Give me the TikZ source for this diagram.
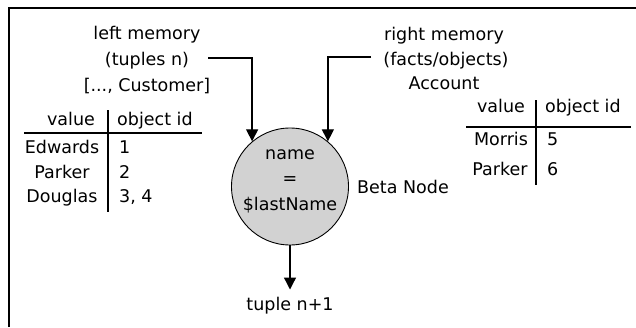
\documentclass[tikz,border=0pt]{standalone}
\usepackage{fontspec}
\setmainfont{DejaVu Sans}
\usetikzlibrary{arrows.meta}
\begin{document}
\begin{tikzpicture}[x=1pt,y=-1pt,
  txt/.style={font=\fontsize{17.5}{21}\selectfont, inner sep=0pt, anchor=base},
  txtw/.style={txt, anchor=base west},
  arr/.style={line width=1.3pt, -{Triangle[width=12pt,length=12pt]}},
  tabrule/.style={line width=1.2pt},
  frame/.style={line width=1.8pt},
  betacirc/.style={circle, draw, line width=0.9pt, fill=gray!35, minimum size=117pt, inner sep=0pt}]
\useasboundingbox (0,0) rectangle (636,327);
\draw[frame] (9,327) -- (9,8.3) -- (636,8.3);

% beta node
\node[betacirc] (beta) at (290,186.5) {};
\node[txt] (bname) at (290,159) {name};
\node[txt] (beq) at (290,184.5) {=};
\node[txt] (blast) at (290,210) {\$lastName};
\node[txtw] (blabel) at (357,193) {Beta Node};

% left memory
\node[txt] (lm1) at (147,39.5) {left memory};
\node[txt] (lm2) at (147,65.5) {(tuples n)};
\node[txt] (lm3) at (147,91.5) {[..., Customer]};
% right memory
\node[txt] (rm1) at (444,40) {right memory};
\node[txt] (rm2) at (446,65) {(facts/objects)};
\node[txt] (rm3) at (444,89) {Account};

\coordinate (lstart) at (208,58);
\coordinate (rstart) at (371,57);
\draw[arr] (lstart) -| (beta.130);
\draw[arr] (rstart) -| (beta.50);

% output
\node[txt] (tup) at (290,310) {tuple n+1};
\draw[arr, shorten >=7pt] (beta.south) -- (tup.north);

% left table
\node[txt] (lh1) at (71,125) {value};
\node[txtw] (lh2) at (117,125) {object id};
\node[txt] (lv1) at (62,153) {Edwards};
\node[txt] (lv2) at (62,178) {Parker};
\node[txt] (lv3) at (62,202) {Douglas};
\node[txtw] (li1) at (119,153) {1};
\node[txtw] (li2) at (119,178) {2};
\node[txtw] (li3) at (119,202) {3, 4};
\draw[tabrule] (24,133) -- (202,133);
\draw[tabrule] (108,110) -- (108,212);

% right table
\node[txt] (rh1) at (501,112) {value};
\node[txtw] (rh2) at (545,112) {object id};
\node[txt] (rv1) at (501,145) {Morris};
\node[txt] (rv2) at (500,175) {Parker};
\node[txtw] (ri1) at (547,145) {5};
\node[txtw] (ri2) at (547,175) {6};
\draw[tabrule] (466,127) -- (631,127);
\draw[tabrule] (536,100) -- (536,185);
\end{tikzpicture}
\end{document}
